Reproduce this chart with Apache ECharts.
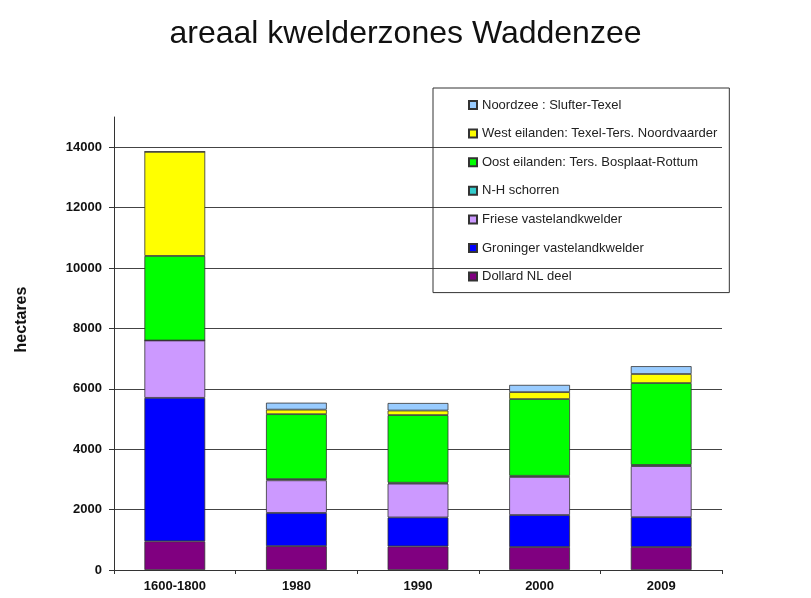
<!DOCTYPE html>
<html>
<head>
<meta charset="utf-8">
<script src="https://cdn.jsdelivr.net/npm/echarts@6/dist/echarts.min.js"></script>
<style>
  html, body { margin: 0; padding: 0; background: #fff; }
  #chart { width: 811px; height: 598px; }
</style>
</head>
<body>
<div id="chart"></div>
<script>
// periods on the x axis
var periods = ['1600-1800', '1980', '1990', '2000', '2009']

// hectares per zone, bottom of the stack first
var dollard = [950, 790, 780, 760, 760]
var groninger = [4750, 1100, 960, 1060, 990]
var friese = [1900, 1080, 1120, 1260, 1690]
var nhSchorren = [0, 40, 30, 40, 40]
var oostEilanden = [2800, 2150, 2240, 2540, 2710]
var westEilanden = [3450, 150, 150, 230, 300]
var noordzee = [0, 230, 250, 240, 260]

var chart = echarts.init(document.getElementById('chart'))

var font = 'Liberation Sans, Arial, Helvetica, sans-serif'

function bar(name, data, color) {
  return {
    name: name,
    type: 'bar',
    stack: 'total',
    barWidth: '50%',
    data: data,
    itemStyle: {
      color: color,
      borderColor: '#333',
      borderWidth: 0.8
    }
  }
}

chart.setOption({
  animation: false,
  backgroundColor: '#fff',
  textStyle: { fontFamily: font },
  title: {
    text: 'areaal kwelderzones Waddenzee',
    left: 'center',
    top: 13,
    textStyle: {
      fontFamily: font,
      fontSize: 32,
      fontWeight: 'normal',
      color: '#111'
    }
  },
  legend: {
    orient: 'vertical',
    left: 433,
    top: 88,
    padding: [10, 12, 9, 35],
    itemGap: 14.6,
    itemWidth: 8,
    itemHeight: 8,
    icon: 'rect',
    borderColor: '#333',
    borderWidth: 1,
    textStyle: { fontFamily: font, fontSize: 13, color: '#222', lineHeight: 14 },
    data: [
      'Noordzee : Slufter-Texel',
      'West eilanden: Texel-Ters. Noordvaarder',
      'Oost eilanden: Ters. Bosplaat-Rottum',
      'N-H schorren',
      'Friese vastelandkwelder',
      'Groninger vastelandkwelder',
      'Dollard NL deel'
    ]
  },
  grid: {
    left: 114,
    right: 89,
    top: 117,
    bottom: 28
  },
  xAxis: {
    type: 'category',
    data: periods,
    axisLine: { lineStyle: { color: '#333', width: 1 } },
    axisTick: { show: true, alignWithLabel: false, length: 4, lineStyle: { color: '#333' } },
    axisLabel: { fontFamily: font, fontSize: 13, fontWeight: 'bold', color: '#111', margin: 10 }
  },
  yAxis: {
    type: 'value',
    min: 0,
    max: 15000,
    interval: 2000,
    name: 'hectares',
    nameLocation: 'middle',
    nameGap: 84,
    nameTextStyle: { fontFamily: font, fontSize: 16, fontWeight: 'bold', color: '#111', padding: [0, 0, 0, 48] },
    axisLine: { show: true, lineStyle: { color: '#333', width: 1 } },
    axisTick: { show: true, length: 5, lineStyle: { color: '#333' } },
    axisLabel: {
      fontFamily: font,
      fontSize: 13,
      fontWeight: 'bold',
      color: '#111',
      margin: 12,
      showMaxLabel: false,
      formatter: function (v) { return String(v) }
    },
    splitLine: { show: true, showMaxLine: false, lineStyle: { color: '#444', width: 1 } }
  },
  series: [
    bar('Dollard NL deel', dollard, '#800080'),
    bar('Groninger vastelandkwelder', groninger, '#0000ff'),
    bar('Friese vastelandkwelder', friese, '#cc99ff'),
    bar('N-H schorren', nhSchorren, '#33cccc'),
    bar('Oost eilanden: Ters. Bosplaat-Rottum', oostEilanden, '#00ff00'),
    bar('West eilanden: Texel-Ters. Noordvaarder', westEilanden, '#ffff00'),
    bar('Noordzee : Slufter-Texel', noordzee, '#99ccff')
  ]
})
</script>
</body>
</html>
